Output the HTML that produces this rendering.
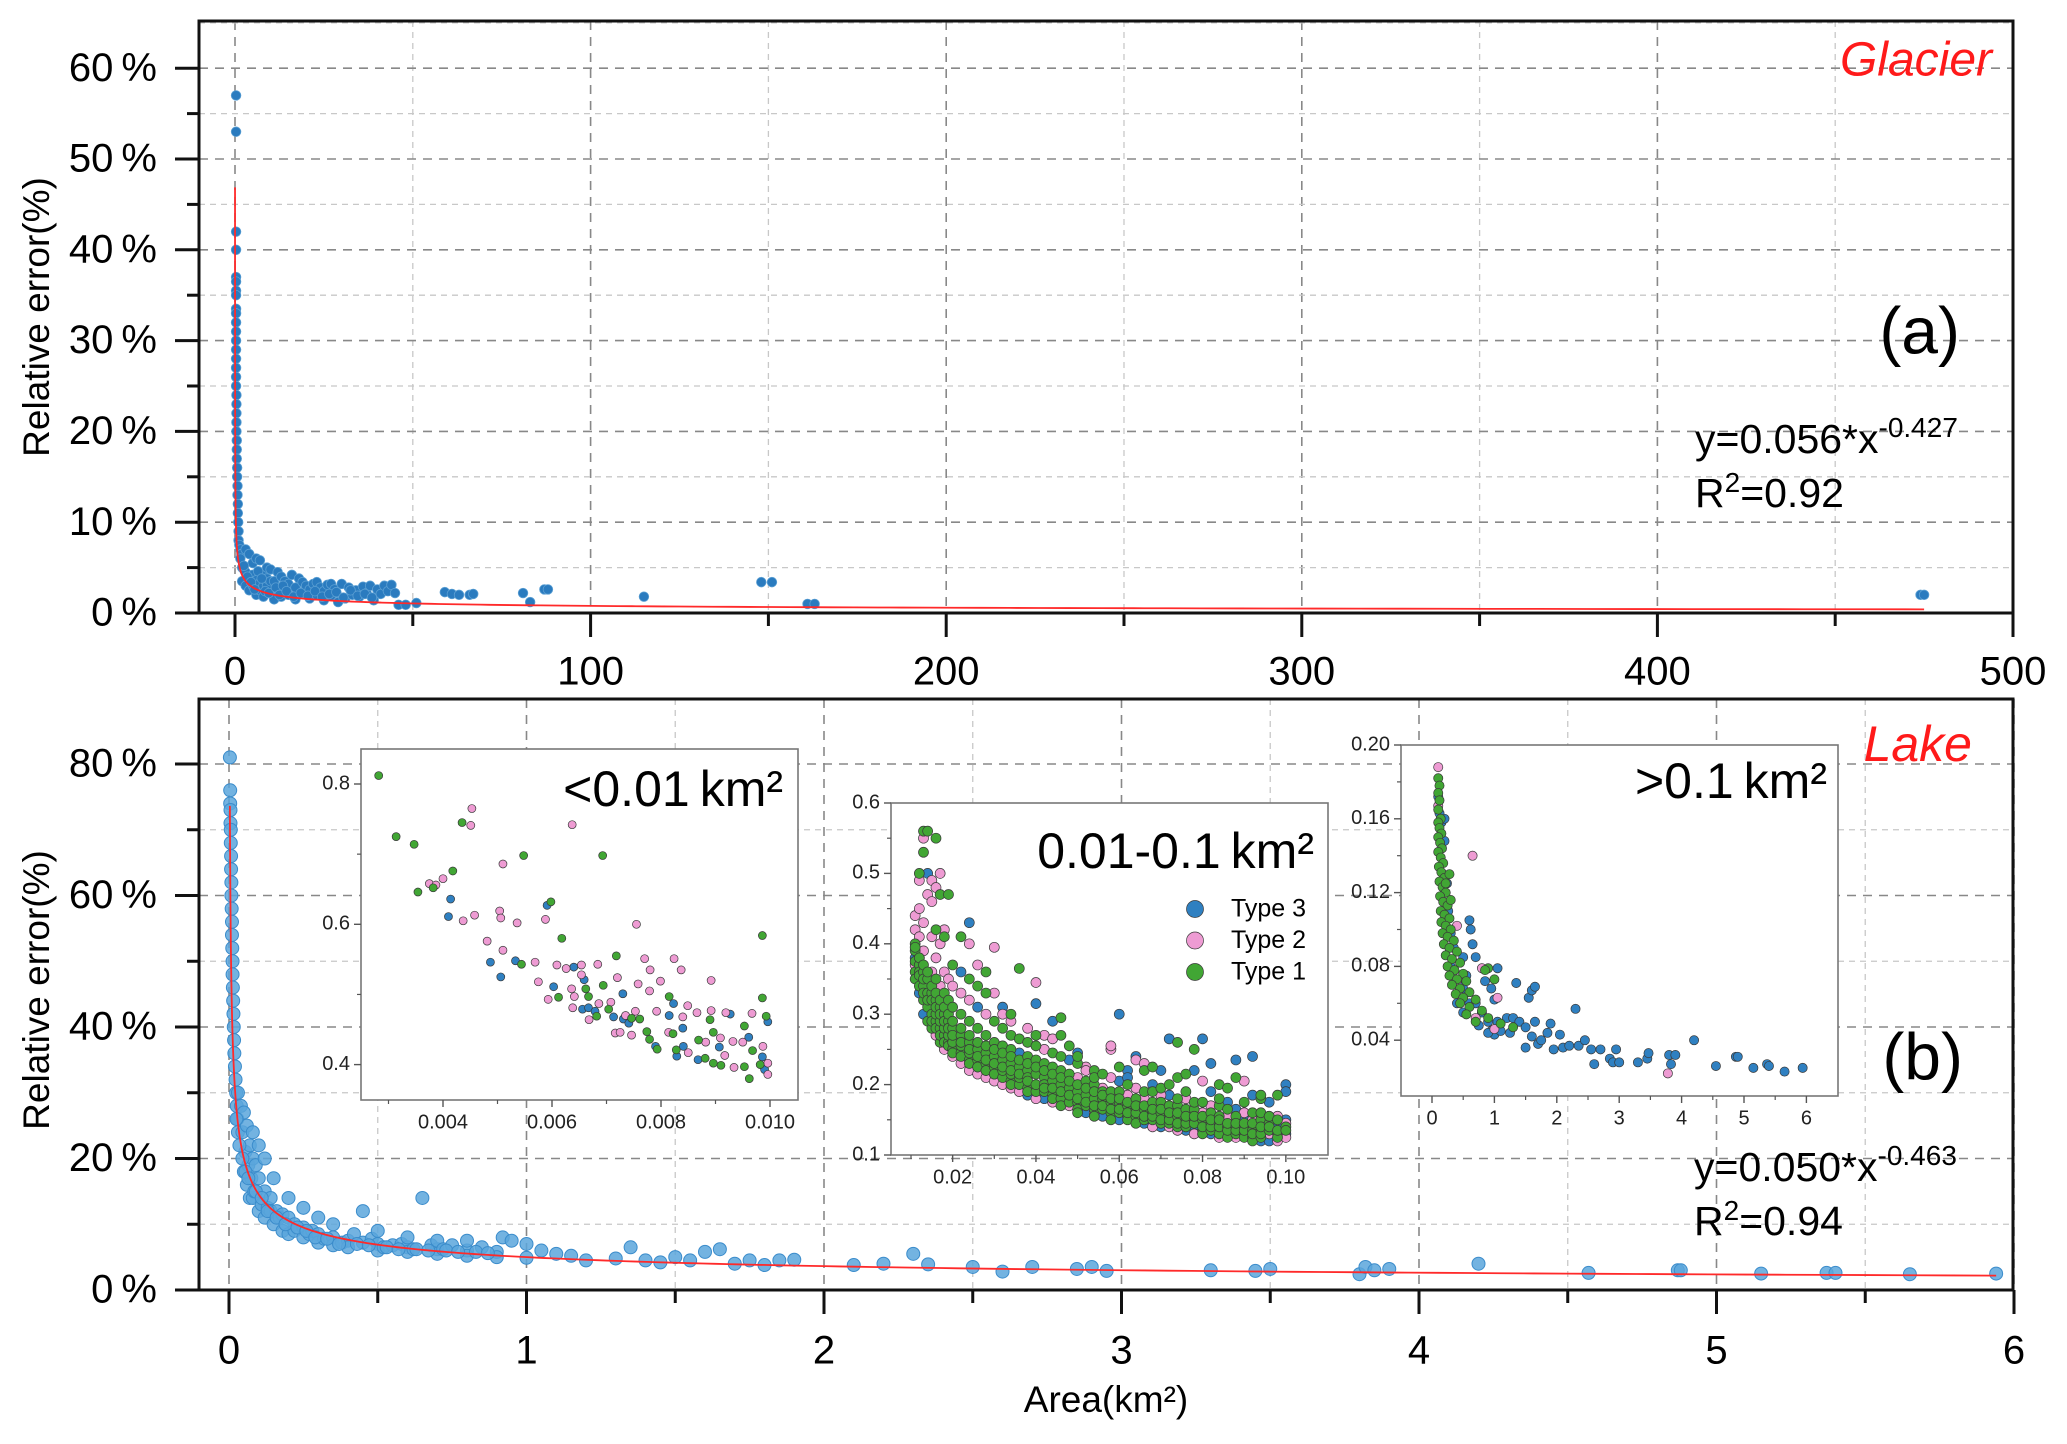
<!DOCTYPE html>
<html><head><meta charset="utf-8"><style>
html,body{margin:0;padding:0;background:#fff;}
svg{display:block;font-family:"Liberation Sans",Arial,sans-serif;}
</style></head><body>
<svg id="fig" width="2067" height="1444" viewBox="0 0 2067 1444" xmlns="http://www.w3.org/2000/svg">
<g id="grid"></g>
<g id="marks"></g>
<g id="frames"></g>
<g id="labels"></g>
</svg>
<script>
// ---------- DATA ----------
const glacierArea=[0.3,0.3,0.3,0.3,0.3,0.3,0.3,0.3,0.3,0.3,0.3,0.3,0.3,0.3,0.3,0.3,0.3,0.3,0.4,0.4,0.4,0.4,0.4,0.5,0.5,0.5,0.6,0.6,0.7,0.7,0.8,0.8,0.9,1,1,1.2,1.5,1.8,2,2,2.5,3,3,3,4,4,4,5,5,5,6,6,6,7,7,7,8,8,8,9,9,9,10,10,10,11,11,12,12,13,13,14,15,15,16,17,17,18,19,19,20,21,21,22,23,23,24,25,25,26,27,27,28,29,30,31,32,33,34,35,36,37,38,39,40,41,42,43,44,45,46,48,51,59,61,63,66,67,81,83,87,88,115,148,151,161,163,474,475,1.5,2.5,3.5,4.5,5.5,6.5,7.5,8.5,9.5,11.5,12.5,13.5,14.5,16.5,18.5,20.5,22.5,24.5,26.5,28.5,30.5,32.5,34.5,36.5,38.5];
const glacierError=[57,53,42,40,37,36.5,35.5,35,33.5,33,32,31,30,29,28,27,26,25,24,23,22,21,20,19,18,17,16,15,14,13,12,11,10,9,8,7.5,7,6.5,5,3.5,4.8,7,3,4.5,6.5,2.5,3.8,5.5,3,4.2,6,2,3.6,5.8,2.5,3.3,4.2,1.8,3,5,3,3.8,4.8,2.2,3.5,1.5,3.5,4.5,2.6,1.8,4,3.5,2,3.2,4.2,1.5,2.8,3.8,2.3,3.4,3,1.6,2.6,3.2,2,3.4,2.8,1.4,2.4,3.1,1.9,3.2,2.6,1.2,3.2,1.6,2.8,2,2.5,1.8,2.9,2.2,3,1.4,2.6,2.1,3,2.4,3.1,2.2,0.9,0.9,1.1,2.3,2.1,2,2,2.1,2.2,1.2,2.6,2.6,1.8,3.4,3.4,1,1,2,2,6,5.2,4,3.4,2.6,4.6,3.8,2.4,2.2,2.8,2,3,2.4,1.8,2.2,1.9,2.4,1.8,2.1,2.3,1.7,2.5,1.9,2.1,1.7];
const glacierFit=[0.056,-0.427]; // a, b  (fraction)
const lakeArea=[0.003,0.004,0.004,0.005,0.005,0.006,0.006,0.007,0.007,0.008,0.008,0.009,0.01,0.01,0.011,0.012,0.012,0.013,0.014,0.015,0.016,0.017,0.018,0.02,0.022,0.024,0.026,0.028,0.03,0.03,0.04,0.045,0.05,0.05,0.055,0.06,0.06,0.065,0.07,0.07,0.075,0.08,0.08,0.08,0.085,0.09,0.1,0.1,0.1,0.11,0.12,0.12,0.12,0.13,0.14,0.14,0.15,0.15,0.16,0.17,0.18,0.18,0.2,0.2,0.2,0.22,0.22,0.25,0.25,0.25,0.27,0.28,0.3,0.3,0.3,0.32,0.35,0.35,0.35,0.38,0.4,0.4,0.42,0.45,0.45,0.48,0.5,0.5,0.5,0.52,0.55,0.58,0.6,0.6,0.6,0.62,0.65,0.68,0.7,0.7,0.7,0.72,0.75,0.8,0.8,0.8,0.85,0.9,0.9,0.92,0.95,1.0,1.0,1.05,1.1,1.15,1.2,1.3,1.35,1.4,1.45,1.5,1.55,1.6,1.65,1.7,1.75,1.8,1.85,1.9,2.1,2.2,2.3,2.35,2.5,2.6,2.7,2.85,2.9,2.95,3.3,3.45,3.5,3.8,3.82,3.85,3.9,4.2,4.57,4.87,4.88,5.15,5.37,5.4,5.65,5.94,0.025,0.035,0.045,0.055,0.065,0.09,0.11,0.13,0.16,0.19,0.23,0.26,0.29,0.33,0.37,0.43,0.47,0.53,0.57,0.63,0.67,0.73,0.77,0.83,0.87];
const lakeError=[81,76,74,73,71,70,68,66,64,62,60,58,56,54,52,50,48,46,44,42,40,38,36,34,32,30,28,26,30,24,28,24,27,18,21,25,16,19,22,14,17,20,14,24,15,19,17,12,22,13,15,11,20,12.5,14,12,10,17,12,11,11.5,9,11,8.5,14,10,9,9.5,8,12.5,8.5,9,8.5,7.2,11,7.8,8,6.8,10,7.2,7.5,6.5,8.5,7.2,12,7.8,7,6,9,6.5,6.8,7,6.5,5.8,8,6.2,14,6.8,6.2,5.5,7.5,6.2,6.8,6,5.2,7.5,6.5,5.8,5,8,7.5,7,4.9,6,5.5,5.2,4.5,4.8,6.5,4.5,4.2,5,4.5,5.8,6.2,4,4.5,3.8,4.5,4.6,3.8,4,5.5,3.9,3.5,2.8,3.5,3.2,3.5,2.9,3,2.9,3.2,2.4,3.5,3,3.2,4,2.6,3,3,2.5,2.6,2.6,2.4,2.5,26,22,20,18,17,15,14,12,11,10,9.5,9,8,7.8,7,7,6.8,6.5,6.2,6.2,6,6,5.8,5.8,5.6];
const lakeFit=[0.050,-0.463];
// inset 1 (<0.01 km2): [area, error, type]
const inset1Points=[[0.00282,0.812,1],[0.00314,0.725,1],[0.00347,0.714,1],[0.00354,0.646,1],[0.00375,0.658,2],[0.00387,0.656,2],[0.00382,0.652,1],[0.004,0.665,2],[0.00418,0.676,1],[0.00414,0.636,3],[0.0041,0.611,3],[0.00435,0.745,1],[0.00453,0.765,2],[0.00451,0.741,2],[0.00437,0.605,2],[0.00458,0.613,2],[0.00481,0.576,2],[0.00487,0.546,3],[0.00506,0.525,3],[0.0051,0.686,2],[0.00504,0.619,2],[0.00506,0.609,2],[0.0051,0.563,2],[0.00536,0.602,2],[0.00533,0.548,3],[0.00544,0.543,1],[0.00548,0.698,1],[0.00569,0.546,2],[0.00575,0.518,2],[0.00588,0.607,2],[0.00591,0.627,3],[0.00598,0.632,1],[0.00593,0.493,2],[0.00603,0.511,3],[0.00612,0.496,1],[0.00609,0.542,2],[0.00618,0.58,1],[0.00626,0.537,2],[0.00637,0.742,2],[0.0064,0.539,3],[0.00636,0.508,2],[0.00641,0.497,2],[0.00638,0.481,2],[0.00654,0.542,2],[0.00654,0.528,2],[0.00659,0.521,3],[0.00656,0.479,3],[0.00667,0.481,3],[0.00662,0.508,1],[0.00667,0.497,1],[0.00668,0.464,2],[0.00684,0.543,2],[0.00679,0.476,3],[0.00682,0.469,1],[0.00694,0.513,1],[0.00693,0.698,1],[0.00686,0.487,2],[0.00708,0.489,2],[0.00704,0.479,1],[0.0072,0.524,2],[0.00718,0.555,1],[0.00713,0.468,3],[0.00716,0.445,2],[0.00725,0.446,2],[0.0073,0.501,3],[0.00731,0.465,3],[0.00735,0.47,2],[0.00741,0.459,3],[0.00746,0.442,2],[0.00746,0.466,1],[0.00753,0.476,2],[0.00755,0.6,2],[0.00761,0.465,1],[0.00758,0.515,2],[0.0077,0.551,2],[0.0078,0.535,2],[0.00779,0.505,2],[0.00774,0.447,1],[0.00779,0.436,1],[0.00792,0.476,2],[0.0079,0.426,3],[0.00793,0.422,1],[0.00799,0.519,2],[0.00815,0.47,3],[0.00815,0.497,1],[0.00814,0.446,2],[0.00823,0.487,3],[0.00822,0.444,1],[0.00824,0.551,2],[0.00829,0.412,3],[0.00828,0.421,1],[0.0084,0.452,3],[0.00837,0.535,2],[0.0084,0.468,2],[0.00849,0.484,2],[0.00841,0.426,3],[0.0085,0.417,2],[0.00869,0.435,1],[0.00866,0.474,2],[0.00868,0.407,3],[0.00882,0.432,2],[0.00881,0.409,1],[0.00892,0.52,2],[0.00892,0.477,2],[0.0089,0.464,1],[0.00896,0.446,1],[0.00896,0.402,1],[0.00909,0.438,2],[0.00907,0.425,3],[0.0091,0.399,1],[0.00917,0.413,2],[0.00919,0.474,2],[0.00927,0.472,3],[0.00932,0.433,2],[0.00934,0.396,2],[0.00953,0.455,1],[0.0095,0.432,2],[0.00961,0.439,3],[0.00953,0.397,1],[0.00967,0.473,2],[0.00968,0.42,1],[0.00962,0.38,1],[0.00986,0.584,1],[0.00986,0.495,1],[0.00993,0.469,1],[0.00996,0.461,3],[0.00987,0.426,2],[0.00986,0.411,3],[0.00996,0.402,2],[0.00996,0.386,2],[0.00982,0.4,1],[0.0099,0.393,3]];
// inset 2 (0.01-0.1 km2): area column + error/type lists
const inset2Area=[0.011,0.012,0.013,0.014,0.015,0.016,0.017,0.018,0.019,0.02,0.022,0.024,0.026,0.028,0.03,0.032,0.034,0.036,0.038,0.04,0.042,0.044,0.046,0.048,0.05,0.052,0.054,0.056,0.058,0.06,0.062,0.064,0.066,0.068,0.07,0.072,0.074,0.076,0.078,0.08,0.082,0.084,0.086,0.088,0.09,0.092,0.094,0.096,0.098,0.1];
const inset2Values=[
"40G 38B 36G 42P 44P 39G 35G 37P 37.5G 39.5G",
"37G 34G 41P 45P 49P 50G 33B 38P 36G 35.5G 38G",
"36G 32G 30B 39P 43P 56G 55P 53G 34G 33G 35G 37G",
"35G 31G 29G 34P 47P 50B 56G 33G 32G 36G",
"33G 30G 28G 36P 41P 46P 49P 31B 32G 34G 29G",
"32G 29G 27P 35G 38P 42G 48P 55G 30G 31G 33G 28G",
"31G 28G 26G 34P 40P 50P 47G 29G 30G 32G 27G",
"30G 27G 25P 33G 36P 41G 42P 28G 29G 31G 26G",
"29G 26G 32G 35P 47G 27G 28G 30G 25.5G",
"28G 25G 24P 31G 34P 37G 26G 27G 29G 24.5G",
"27G 24.5G 23P 30G 33P 36B 41G 25.5G 26G 28G 24G",
"26G 23.5G 22P 29G 32P 35G 40P 43B 24.5G 25G 27G 23G",
"25G 22.5G 21.5P 28G 31B 34G 37P 23.5G 24G 26G 22.5G",
"24.5G 22G 21P 27G 30P 33G 36G 23G 23.5G 25.5G 22G",
"24G 21.5G 20.5P 26G 29G 33P 39.5P 22.5G 23G 25G 21.5G",
"23.5G 21G 20P 25.5G 28G 31B 30P 22G 22.5G 24.5G",
"23G 20.5G 19.5P 25G 27G 30G 29P 21.5G 22G 24G 20G",
"22.5G 20G 19P 24.5B 26.5G 36.5G 21G 21.5G 23.5G",
"22G 19.5G 18.5B 24G 26G 28P 21G 20.5G 23G 19G",
"21.5G 19G 18P 23.5G 25.5G 27G 31.5B 34.5P 20G 22.5G",
"21G 19G 18B 23G 25P 27P 20G 19.5G 22G",
"20.5G 18.5G 17.5P 22.5G 24.5G 29B 26.5P 19.5G 21.5G 18G",
"20G 18G 17G 22G 24G 29.5G 27G 19G 21G",
"19.5G 17.5G 17P 21.5G 23.5B 25.5G 18.5G 20.5G",
"19G 17.5G 16.5G 21P 23G 24.5B 24G 18G 20G 16G",
"18.5G 17G 16B 20.5G 22.5P 22P 17.5G 19.5G",
"18G 16.5G 16P 20G 22G 21G 17G 19G 15.5G",
"18G 16.5G 15.5B 19.5P 21.5G 19G 17G 18.5G",
"17.5G 16G 15G 19G 21P 25P 25.5P 16.5G 18G",
"17.5G 16G 15B 19G 20.5B 30B 22.5G 18.5P 16.5G 18G",
"17G 15.5G 15G 18.5P 20G 22B 21B 16G 17.5G",
"16.5G 15.5G 14.5G 18G 19.5P 24B 23.5P 16G 17G",
"16.5G 15G 14.5B 18P 19G 22G 23P 15.5G 17G",
"16G 15G 14P 17.5G 19G 22.5G 20B 15.5G 16.5G",
"16G 14.5G 14B 17.5G 18.5P 22B 19.5G 15G 16.5G",
"15.5G 14.5G 14P 17G 18.5B 26.5B 20G 15G 16G",
"15.5G 14G 13.5P 17G 18G 26G 21G 14.5G 16G",
"15G 14G 13.5B 16.5G 18P 21.5G 19G 14.5G 15.5G",
"15G 14B 13P 16.5G 17.5G 25G 22B 14.5G 15.5G",
"15G 13.5G 13G 16P 17.5G 26.5B 20.5P 14G 15.5G",
"14.5G 13.5G 13B 16G 17P 23B 19B 14G 15G",
"14.5G 13G 12.5P 15.5G 17G 18G 20G 14G 15G",
"14G 13B 12.5G 15.5P 16.5G 19.5G 17.5B 13.5G 14.5G",
"14G 13G 12.5P 15.5G 16.5B 21G 23.5B 13.5G 14.5G",
"14G 13G 12.5G 15B 16P 20.5P 17.5G 13.5G 14.5G",
"13.5G 12.5G 12G 15P 16G 24B 18.5B 13G 14.5G",
"13.5G 12.5G 12B 15G 16G 18G 18.5G 13G 14G",
"13.5G 13P 12B 14.5G 15.5G 17.5B 15.5G 14G",
"13G 12.5G 12P 14.5B 15.5P 18.5G 15G 13.5G",
"13B 12.5P 14G 15B 14.5P 20B 19B 13.5G"];
// inset 3 (>0.1 km2)
const inset3Points=[[0.1,0.172,3],[0.12,0.163,3],[0.15,0.158,3],[0.2,0.148,3],[0.24,0.125,3],[0.26,0.11,3],[0.3,0.098,3],[0.35,0.09,3],[0.6,0.105,3],[0.62,0.1,3],[0.65,0.092,3],[0.7,0.085,3],[0.5,0.085,3],[0.55,0.075,3],[0.42,0.07,3],[0.5,0.068,3],[0.6,0.06,3],[0.7,0.06,3],[0.8,0.055,3],[0.9,0.05,3],[0.95,0.045,3],[1.0,0.043,3],[1.05,0.05,3],[1.1,0.045,3],[1.2,0.052,3],[1.25,0.044,3],[1.3,0.052,3],[1.4,0.05,3],[1.5,0.047,3],[1.5,0.036,3],[1.6,0.042,3],[1.65,0.05,3],[1.7,0.038,3],[1.75,0.04,3],[1.85,0.044,3],[1.9,0.049,3],[1.95,0.035,3],[2.05,0.043,3],[2.1,0.036,3],[2.2,0.037,3],[2.3,0.057,3],[2.35,0.037,3],[2.45,0.04,3],[2.55,0.035,3],[2.6,0.027,3],[2.7,0.035,3],[2.85,0.03,3],[2.9,0.028,3],[2.95,0.035,3],[3.0,0.028,3],[3.3,0.028,3],[3.45,0.03,3],[3.47,0.033,3],[3.8,0.032,3],[3.83,0.027,3],[3.9,0.032,3],[4.2,0.04,3],[4.55,0.026,3],[4.87,0.031,3],[4.9,0.031,3],[5.15,0.025,3],[5.37,0.027,3],[5.4,0.026,3],[5.65,0.023,3],[5.94,0.025,3],[1.35,0.071,3],[1.55,0.063,3],[1.6,0.067,3],[1.65,0.069,3],[0.85,0.072,3],[0.95,0.068,3],[1.05,0.079,3],[1.0,0.062,3],[0.2,0.16,3],[0.3,0.08,3],[0.4,0.06,3],[0.5,0.055,3],[0.75,0.048,3],[0.9,0.044,3],
[0.1,0.188,2],[0.1,0.167,2],[0.65,0.14,2],[0.4,0.102,2],[0.8,0.079,2],[0.4,0.072,2],[0.7,0.052,2],[1.0,0.046,2],[1.05,0.063,2],[3.78,0.022,2],
[0.1,0.182,1],[0.12,0.178,1],[0.1,0.174,1],[0.12,0.17,1],[0.1,0.165,1],[0.14,0.16,1],[0.1,0.158,1],[0.12,0.155,1],[0.15,0.152,1],[0.1,0.15,1],[0.13,0.147,1],[0.16,0.144,1],[0.1,0.142,1],[0.14,0.139,1],[0.18,0.136,1],[0.11,0.134,1],[0.15,0.131,1],[0.2,0.128,1],[0.12,0.126,1],[0.17,0.123,1],[0.22,0.12,1],[0.13,0.118,1],[0.18,0.115,1],[0.25,0.113,1],[0.14,0.11,1],[0.2,0.108,1],[0.28,0.106,1],[0.15,0.104,1],[0.22,0.102,1],[0.3,0.1,1],[0.17,0.098,1],[0.25,0.096,1],[0.35,0.094,1],[0.19,0.092,1],[0.28,0.09,1],[0.4,0.088,1],[0.22,0.086,1],[0.32,0.084,1],[0.45,0.082,1],[0.25,0.08,1],[0.36,0.078,1],[0.5,0.076,1],[0.28,0.075,1],[0.4,0.073,1],[0.55,0.072,1],[0.32,0.07,1],[0.45,0.068,1],[0.6,0.066,1],[0.38,0.065,1],[0.5,0.063,1],[0.7,0.062,1],[0.45,0.06,1],[0.6,0.058,1],[0.8,0.056,1],[0.55,0.054,1],[0.9,0.052,1],[0.7,0.05,1],[1.1,0.049,1],[1.3,0.047,1],[0.9,0.079,1],[1.0,0.073,1],[0.85,0.078,1],[0.3,0.116,1],[0.22,0.125,1],[0.28,0.13,1]];
const typeNames=["Type 3","Type 2","Type 1"];
const glacierXTicks=[0,100,200,300,400,500];
const glacierYTicks=[0,10,20,30,40,50,60];
const lakeXTicks=[0,1,2,3,4,5,6];
const lakeYTicks=[0,20,40,60,80];
const inset1XTicks=[0.004,0.006,0.008,0.010];
const inset1YTicks=[0.4,0.6,0.8];
const inset2XTicks=[0.02,0.04,0.06,0.08,0.10];
const inset2YTicks=[0.1,0.2,0.3,0.4,0.5,0.6];
const inset3XTicks=[0,1,2,3,4,5,6];
const inset3YTicks=[0.04,0.08,0.12,0.16,0.20];

// ---------- HELPERS ----------
const NS="http://www.w3.org/2000/svg";
function mk(tag,attrs,parent){const e=document.createElementNS(NS,tag);for(const k in attrs)e.setAttribute(k,attrs[k]);parent.appendChild(e);return e;}
const G=document.getElementById('grid'),M=document.getElementById('marks'),F=document.getElementById('frames'),L=document.getElementById('labels');
const COL={1:'#41a634',2:'#ee9bd3',3:'#2f80c1'};

const ax=v=>235+v*3.556, ay=p=>613-p*9.08;
const bx=v=>229+v*297.5, by=p=>1290-p*6.575;
const i1x=v=>443+(v-0.004)*54500, i1y=v=>784-(v-0.8)*701.5;
const i2x=v=>911+(v-0.01)*4165, i2y=v=>803-(v-0.6)*704;
const i3x=v=>1432+v*62.4, i3y=v=>745-(v-0.2)*1845;

function line(x1,y1,x2,y2,st,w,dash,parent,name){const e=mk('line',{x1,y1,x2,y2,stroke:st,'stroke-width':w},parent);if(dash)e.setAttribute('stroke-dasharray',dash);

return e;}
function text(x,y,s,size,anchor,parent,name,extra){const e=mk('text',{x,y,'font-size':size,'text-anchor':anchor||'start','dominant-baseline':'middle'},parent);e.textContent=s;if(extra)for(const k in extra)e.setAttribute(k,extra[k]);

return e;}

// ---------- PANEL A ----------
for(let v=0;v<=500;v+=50){const maj=v%100===0;line(ax(v),21,ax(v),613,maj?'#888':'#c8c8c8',maj?1.6:1.3,maj?'9,7':'6,5',G,'grid-a-x');}
for(let p=5;p<=65;p+=5){const maj=p%10===0;line(199,ay(p),2013,ay(p),maj?'#888':'#c8c8c8',maj?1.6:1.3,maj?'9,7':'6,5',G,'grid-a-y');}
for(let i=0;i<glacierArea.length;i++){const c=mk('circle',{cx:ax(glacierArea[i]),cy:ay(glacierError[i]),r:4.8,fill:'#2a7bbf',stroke:'#5b9fd3','stroke-width':0.8},M);

}
{let d='';for(let k=0;k<=300;k++){const x=Math.exp(Math.log(0.0069)+k/300*(Math.log(475)-Math.log(0.0069)));const y=glacierFit[0]*Math.pow(x,glacierFit[1])*100;d+=(k?'L':'M')+ax(x).toFixed(2)+','+ay(y).toFixed(2);}
const p=mk('path',{d,fill:'none',stroke:'#ff2a2a','stroke-width':1.8},M);

}
{const r=mk('rect',{x:199,y:21,width:1814,height:592,fill:'none',stroke:'#111','stroke-width':3},F);

}
glacierXTicks.forEach(v=>{line(ax(v),613,ax(v),637,'#111',3,null,F,'x-tick-a');text(ax(v),674,String(v),40,'middle',L,'x-tick-label-a');});
for(let v=50;v<500;v+=100)line(ax(v),613,ax(v),626,'#111',3,null,F,'x-minor-tick-a');
glacierYTicks.forEach(p=>{line(175,ay(p),199,ay(p),'#111',3,null,F,'y-tick-a');text(157,ay(p)+2,p+'\u2009%',40,'end',L,'y-tick-label-a');});
for(let p=5;p<65;p+=10)line(187,ay(p),199,ay(p),'#111',3,null,F,'y-minor-tick-a');
text(39,317,'Relative error(%)',37,'middle',L,'y-axis-title-a',{transform:'rotate(-90 39 317)'});
text(1992,63,'Glacier',48,'end',L,'panel-a-title',{fill:'#ff1a1a','font-style':'italic'});
text(1960,336,'(a)',66,'end',L,'panel-a-label');
{const t=mk('text',{x:1695,y:453,'font-size':41},L);t.innerHTML='y=0.056*x<tspan dy="-16" font-size="28">-0.427</tspan>';


const t2=mk('text',{x:1695,y:507,'font-size':41},L);t2.innerHTML='R<tspan dy="-15" font-size="28">2</tspan><tspan dy="15">=0.92</tspan>';

}

// ---------- PANEL B ----------
for(let v=0;v<=6;v+=0.5){const maj=v%1===0;line(bx(v),699,bx(v),1290,maj?'#888':'#c8c8c8',maj?1.6:1.3,maj?'9,7':'6,5',G,'grid-b-x');}
for(let p=10;p<=80;p+=10){const maj=p%20===0;line(199,by(p),2013,by(p),maj?'#888':'#c8c8c8',maj?1.6:1.3,maj?'9,7':'6,5',G,'grid-b-y');}
for(let i=0;i<lakeArea.length;i++){const c=mk('circle',{cx:bx(lakeArea[i]),cy:by(lakeError[i]),r:6.5,fill:'#5aa6dc','fill-opacity':0.85,stroke:'#3b8ccb','stroke-width':1},M);

}
{let d='';for(let k=0;k<=300;k++){const x=Math.exp(Math.log(0.003)+k/300*(Math.log(5.94)-Math.log(0.003)));const y=lakeFit[0]*Math.pow(x,lakeFit[1])*100;d+=(k?'L':'M')+bx(x).toFixed(2)+','+by(y).toFixed(2);}
const p=mk('path',{d,fill:'none',stroke:'#ff2a2a','stroke-width':1.8},M);

}
{const r=mk('rect',{x:199,y:699,width:1814,height:591,fill:'none',stroke:'#111','stroke-width':3},F);

}
lakeXTicks.forEach(v=>{line(bx(v),1290,bx(v),1314,'#111',3,null,F,'x-tick-b');text(bx(v),1353,String(v),40,'middle',L,'x-tick-label-b');});
for(let v=0.5;v<6;v+=1)line(bx(v),1290,bx(v),1303,'#111',3,null,F,'x-minor-tick-b');
lakeYTicks.forEach(p=>{line(175,by(p),199,by(p),'#111',3,null,F,'y-tick-b');text(157,by(p)+2,p+'\u2009%',40,'end',L,'y-tick-label-b');});
for(let p=10;p<80;p+=20)line(187,by(p),199,by(p),'#111',3,null,F,'y-minor-tick-b');
text(39,990,'Relative error(%)',37,'middle',L,'y-axis-title-b',{transform:'rotate(-90 39 990)'});
text(1106,1402,'Area(km²)',37,'middle',L,'x-axis-title');
text(1972,748,'Lake',50,'end',L,'panel-b-title',{fill:'#ff1a1a','font-style':'italic'});
text(1963,1062,'(b)',66,'end',L,'panel-b-label');
{const t=mk('text',{x:1694,y:1181,'font-size':41},L);t.innerHTML='y=0.050*x<tspan dy="-16" font-size="28">-0.463</tspan>';


const t2=mk('text',{x:1694,y:1235,'font-size':41},L);t2.innerHTML='R<tspan dy="-15" font-size="28">2</tspan><tspan dy="15">=0.94</tspan>';

}

// ---------- INSETS ----------
function inset(name,box,xs,ys,xt,yt,xfmt,yfmt,xminor,yminor,pts,r,title,tx,ty){
  const g=mk('g',{},L);
  
  
  const bg=mk('rect',{x:box[0],y:box[1],width:box[2]-box[0],height:box[3]-box[1],fill:'#fff',stroke:'none'},g);
  
  
  [3,2,1].forEach(t=>pts.forEach(p=>{if(p[2]!==t)return;const c=mk('circle',{cx:xs(p[0]),cy:ys(p[1]),r,fill:COL[t],stroke:'#3a3a3a','stroke-width':0.7},g);
    
    }));
  const fr=mk('rect',{x:box[0],y:box[1],width:box[2]-box[0],height:box[3]-box[1],fill:'none',stroke:'#777','stroke-width':1.6},g);
  
  
  xt.forEach(v=>{line(xs(v),box[3],xs(v),box[3]+7,'#555',1.4,null,g,name+'-x-tick');text(xs(v),box[3]+23,xfmt(v),20,'middle',g,name+'-x-tick-label',{fill:'#222'});});
  xminor.forEach(v=>line(xs(v),box[3],xs(v),box[3]+4,'#555',1.2,null,g,name+'-x-minor-tick'));
  yt.forEach(v=>{line(box[0]-7,ys(v),box[0],ys(v),'#555',1.4,null,g,name+'-y-tick');text(box[0]-11,ys(v),yfmt(v),20,'end',g,name+'-y-tick-label',{fill:'#222'});});
  yminor.forEach(v=>line(box[0]-4,ys(v),box[0],ys(v),'#555',1.2,null,g,name+'-y-minor-tick'));
  text(tx,ty,title,50,'end',g,name+'-title');
  return g;
}
inset('inset-small-lakes',[361,749,798,1100],i1x,i1y,inset1XTicks,inset1YTicks,v=>v.toFixed(3),v=>v.toFixed(1),[0.003,0.005,0.007,0.009],[0.5,0.7],inset1Points,4,'<0.01\u2009km²',783,793);
const inset2Points=[];
inset2Area.forEach((x,i)=>inset2Values[i].split(' ').forEach(s=>{const t=s.slice(-1);inset2Points.push([x,parseFloat(s)/100,t==='G'?1:t==='P'?2:3]);}));
const g2=inset('inset-medium-lakes',[891,803,1328,1155],i2x,i2y,inset2XTicks,inset2YTicks,v=>v.toFixed(2),v=>v.toFixed(1),[0.01,0.03,0.05,0.07,0.09],[0.15,0.25,0.35,0.45,0.55],inset2Points,5,'0.01-0.1\u2009km²',1314,855);
[3,2,1].forEach((t,k)=>{const y=909+k*31.5;const c=mk('circle',{cx:1195,cy:y,r:8.5,fill:COL[t],stroke:'#3a3a3a','stroke-width':0.7},g2);


text(1231,y+1,typeNames[k],25,'start',g2,'legend-entry-type'+t);});
inset('inset-large-lakes',[1401,745,1838,1096],i3x,i3y,inset3XTicks,inset3YTicks,v=>String(v),v=>v.toFixed(2),[0.5,1.5,2.5,3.5,4.5,5.5],[0.06,0.1,0.14,0.18],inset3Points,4.6,'>0.1\u2009km²',1827,785);
</script>
</body></html>
